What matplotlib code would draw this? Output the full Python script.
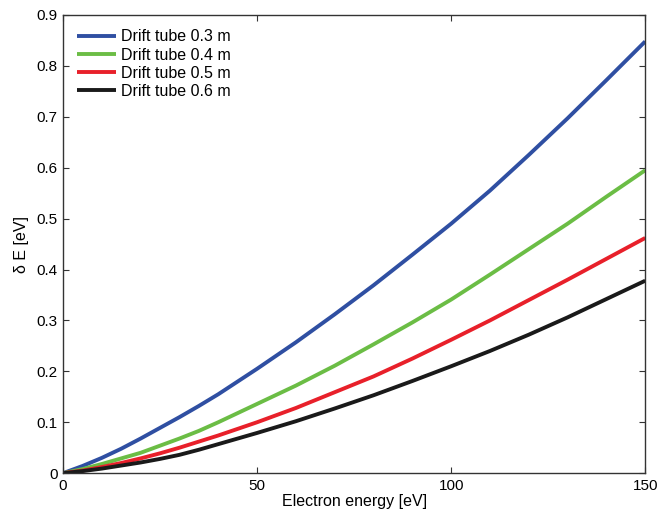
import matplotlib
matplotlib.use("Agg")
import matplotlib.pyplot as plt

# --- data ---
energy = [0, 5, 10, 15, 20, 25, 30, 35, 40, 45, 50, 60, 70, 80, 90, 100,
          110, 120, 130, 140, 150]
de_03 = [0, 0.014, 0.030, 0.048, 0.068, 0.089, 0.110, 0.132, 0.155, 0.180, 0.205,
         0.257, 0.312, 0.369, 0.429, 0.490, 0.555, 0.625, 0.697, 0.772, 0.848]
de_04 = [0, 0.008, 0.018, 0.029, 0.040, 0.054, 0.068, 0.083, 0.100, 0.118, 0.136,
         0.172, 0.211, 0.253, 0.296, 0.341, 0.390, 0.440, 0.490, 0.543, 0.595]
de_05 = [0, 0.005, 0.012, 0.020, 0.029, 0.039, 0.050, 0.062, 0.074, 0.087, 0.100,
         0.128, 0.159, 0.190, 0.225, 0.262, 0.300, 0.340, 0.380, 0.421, 0.462]
de_06 = [0, 0.004, 0.009, 0.015, 0.021, 0.028, 0.036, 0.046, 0.057, 0.068, 0.079,
         0.102, 0.127, 0.153, 0.181, 0.210, 0.240, 0.272, 0.306, 0.342, 0.378]
labels = ["Drift tube 0.3 m", "Drift tube 0.4 m", "Drift tube 0.5 m", "Drift tube 0.6 m"]
colors = ["#2f4fa2", "#6bbd45", "#e8202a", "#1a1a1a"]

plt.rcParams['font.family'] = ['Liberation Sans', 'DejaVu Sans']

fig = plt.figure(figsize=(6.7, 5.16), dpi=100)
ax = fig.add_axes([0.094, 0.083, 0.869, 0.888])

for ys, lab, c in zip([de_03, de_04, de_05, de_06], labels, colors):
    ax.plot(energy, ys, color=c, lw=2.8, label=lab, solid_capstyle='butt')

ax.set_xlim(0, 150)
ax.set_ylim(0, 0.9)
ax.set_xticks([0, 50, 100, 150])
ax.set_yticks([0, 0.1, 0.2, 0.3, 0.4, 0.5, 0.6, 0.7, 0.8, 0.9])
ax.set_yticklabels(["0", "0.1", "0.2", "0.3", "0.4", "0.5", "0.6", "0.7", "0.8", "0.9"])
ax.tick_params(direction='in', top=True, right=True, labelsize=11, length=4,
               color='#333333', pad=4)
for s in ax.spines.values():
    s.set_color('#333333')
    s.set_linewidth(1.0)

ax.set_xlabel("Electron energy [eV]", fontsize=11.5, labelpad=1)
ax.set_ylabel("δ E [eV]", fontsize=11.5, labelpad=5)

ax.legend(loc='upper left', frameon=False, fontsize=11.5, handlelength=2.45,
          handletextpad=0.3, labelspacing=0.2, borderaxespad=0.5,
          bbox_to_anchor=(0.0, 1.0))

fig.savefig("out.png", dpi=100)
